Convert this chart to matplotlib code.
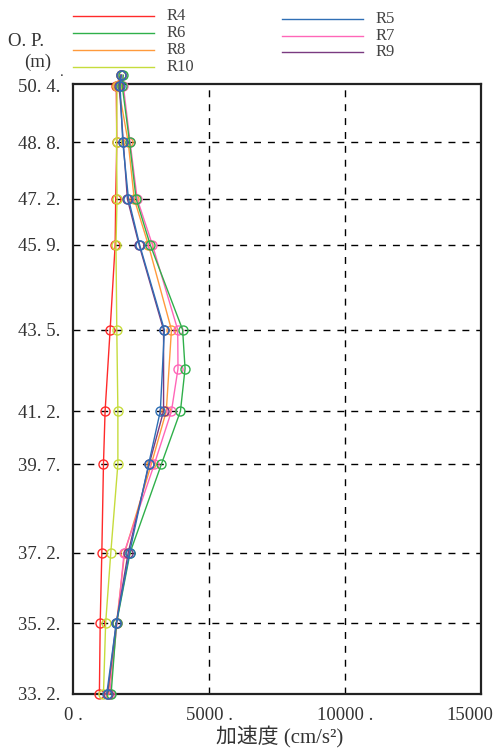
import matplotlib
matplotlib.use("Agg")
import matplotlib.pyplot as plt
import matplotlib.transforms as mtrans
from matplotlib.lines import Line2D

# ---- data ----
elev = [50.7, 50.4, 48.8, 47.2, 45.9, 43.5, 41.2, 39.7, 37.2, 35.2, 33.2]
elev_ext = [50.7, 50.4, 48.8, 47.2, 45.9, 43.5, 42.4, 41.2, 39.7, 37.2, 35.2, 33.2]

R4 = [1750, 1590, 1610, 1570, 1550, 1365, 1180, 1120, 1060, 1000, 970]
R10 = [1780, 1620, 1600, 1620, 1580, 1610, 1650, 1650, 1390, 1200, 1120]
R8 = [1780, 1660, 2030, 2250, 2770, 3620, 3430, 2880, 1900, 1600, 1300]
R9 = [1760, 1700, 1850, 2000, 2430, 3330, 3330, 2800, 2030, 1590, 1270]
R5 = [1780, 1730, 1830, 2040, 2450, 3360, 3210, 2780, 2080, 1590, 1240]
R7 = [1800, 1850, 2100, 2360, 2920, 3850, 3860, 3620, 2990, 1880, 1620, 1350]
R6 = [1850, 1810, 2080, 2320, 2840, 4030, 4120, 3950, 3250, 2100, 1600, 1400]

ytick_vals = [50.4, 48.8, 47.2, 45.9, 43.5, 41.2, 39.7, 37.2, 35.2, 33.2]
ytick_labels = ["50. 4.", "48. 8.", "47. 2.", "45. 9.", "43. 5.", "41. 2.", "39. 7.",
                "37. 2.", "35. 2.", "33. 2."]
xtick_vals = [0, 5000, 10000, 15000]
xtick_labels = ["0 .", "5000 .", "10000 .", "15000"]

colors = {
    "R4": "#ff2a2a", "R6": "#2fb04a", "R8": "#ff9a3c", "R10": "#c6dc3c",
    "R5": "#2f6fb5", "R7": "#ff66b8", "R9": "#7a3a80",
}

FAM = ["Liberation Serif", "Noto Sans CJK JP", "DejaVu Sans"]
plt.rcParams["font.family"] = FAM
TXT = "#333333"

fig = plt.figure(figsize=(4.99, 7.51), dpi=100)
ax = fig.add_axes([73 / 499, 1 - 694 / 751, (481 - 73) / 499, (694 - 84) / 751])

series = [("R4", R4, elev), ("R10", R10, elev), ("R8", R8, elev), ("R7", R7, elev_ext),
          ("R6", R6, elev_ext), ("R9", R9, elev), ("R5", R5, elev)]
for name, vals, ys in series:
    ax.plot(vals, ys, color=colors[name], lw=1.0, marker="o", ms=6.5,
            mfc="none", mec=colors[name], mew=1.0, clip_on=False, zorder=3)

ax.set_xlim(0, 15000)
ax.set_ylim(33.2, 50.45)

# grid lines
for x in [5000, 10000]:
    ax.axvline(x, color="black", lw=1.0, ls=(0, (5, 5)), zorder=1)
for y in ytick_vals[1:-1]:
    ax.axhline(y, color="black", lw=1.0, ls=(0, (5, 5)), zorder=1)

ax.set_yticks(ytick_vals)
ax.set_yticklabels(ytick_labels, fontsize=13.5, color=TXT)
ax.set_xticks(xtick_vals)
ax.set_xticklabels(xtick_labels, fontsize=13.5, color=TXT)
ax.tick_params(length=0, pad=9)
# last x label sits left of its tick in the reference
lab = ax.get_xticklabels()[-1]
lab.set_horizontalalignment("right")
lab.set_transform(lab.get_transform() + mtrans.ScaledTranslation(12 / 100, 0, fig.dpi_scale_trans))

for s in ax.spines.values():
    s.set_linewidth(1.6)
    s.set_color("#222222")

fig.text(280 / 499, 1 - 737 / 751, "加速度 (cm/s²)", fontsize=15, ha="center",
         va="center", color=TXT)

fig.text(8 / 499, 1 - 42 / 751, "O. P.", fontsize=13.5, va="center", ha="left", color=TXT)
fig.text(24 / 499, 1 - 62 / 751, "(m)", fontsize=13.5, va="center", ha="left", color=TXT)
fig.text(60 / 499, 1 - 72 / 751, ".", fontsize=11, va="center", ha="left", color=TXT)

# legend (manual, two columns)
left_col = [("R4", 16), ("R6", 33), ("R8", 50), ("R10", 67)]
right_col = [("R5", 19), ("R7", 36), ("R9", 52)]
for items, x0, x1, xt in [(left_col, 73, 154, 167), (right_col, 282, 363, 376)]:
    for name, yy in items:
        fig.add_artist(Line2D([x0 / 499, x1 / 499], [1 - yy / 751, 1 - yy / 751],
                              color=colors[name], lw=1.0, transform=fig.transFigure))
        fig.text(xt / 499, 1 - yy / 751, name, fontsize=12, va="center", ha="left",
                 color="#444444")

fig.savefig("out.png", dpi=100)
